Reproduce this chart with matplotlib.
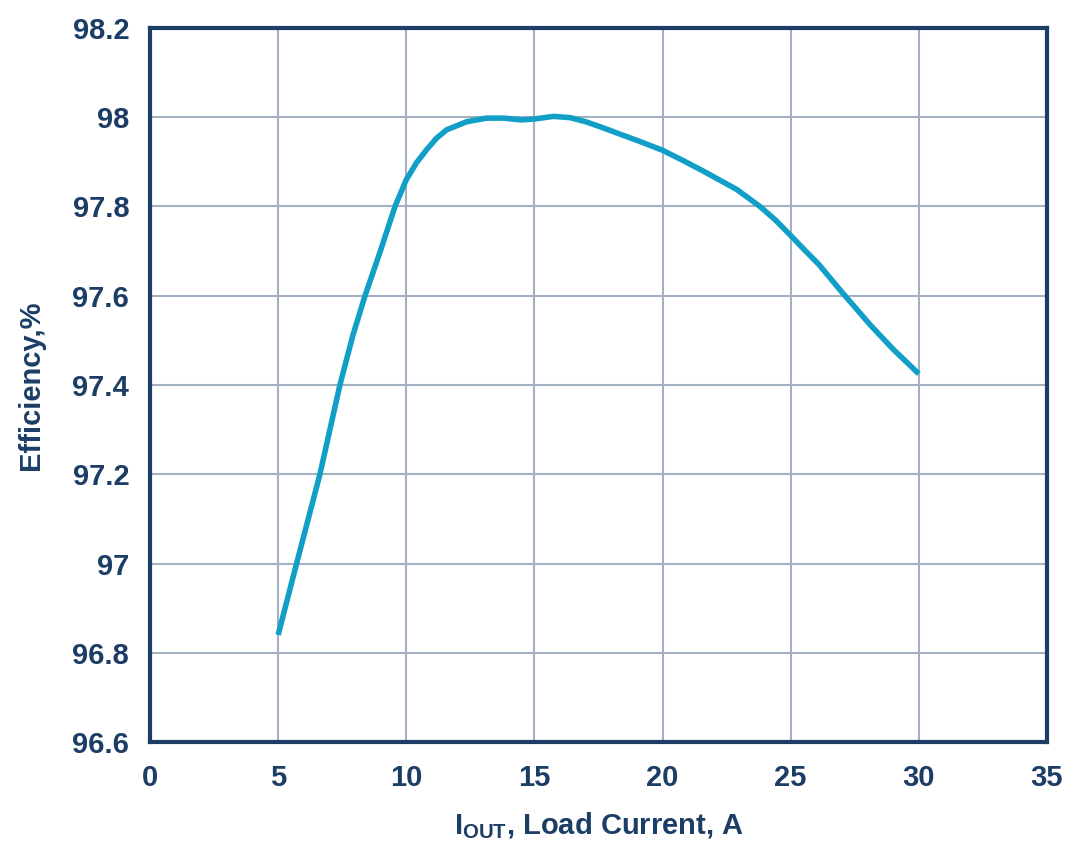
import matplotlib
matplotlib.use("Agg")
import matplotlib.pyplot as plt

plt.rcParams['font.family'] = ['Liberation Sans', 'DejaVu Sans']
plt.rcParams['mathtext.fontset'] = 'custom'
plt.rcParams['mathtext.bf'] = 'Liberation Sans:bold'
plt.rcParams['mathtext.rm'] = 'Liberation Sans:bold'

load_current = [5.0, 5.72, 6.63, 7.41, 7.91, 8.39, 8.97, 9.56, 10.0, 10.4, 10.79, 11.18,
                11.58, 12.36, 13.13, 13.8, 14.5, 15.0, 15.75, 16.4, 17.0, 17.6, 18.3,
                19.1, 20.0, 20.8, 21.6, 22.9, 23.8, 24.4, 25.0, 25.5, 26.1, 27.0,
                28.1, 29.0, 30.0]
efficiency = [96.84, 97.0, 97.2, 97.4, 97.51, 97.6, 97.697, 97.8, 97.86, 97.898, 97.927, 97.953,
              97.972, 97.99, 97.998, 97.998, 97.994, 97.996, 98.002, 97.999, 97.99, 97.978, 97.963,
              97.946, 97.926, 97.903, 97.879, 97.838, 97.8, 97.77, 97.735, 97.705, 97.67, 97.608,
              97.535, 97.48, 97.425]

x_ticks = [0, 5, 10, 15, 20, 25, 30, 35]
y_ticks = [96.6, 96.8, 97.0, 97.2, 97.4, 97.6, 97.8, 98.0, 98.2]
y_tick_labels = ['96.6', '96.8', '97', '97.2', '97.4', '97.6', '97.8', '98', '98.2']

navy = '#1c3d66'
grid_c = '#a3b1c2'
line_c = '#119fc7'

fig = plt.figure(figsize=(10.8, 8.43), dpi=100)
ax = fig.add_axes([0.1389, 0.1198, 0.8305, 0.847])
ax.plot(load_current, efficiency, color=line_c, lw=4.0, solid_capstyle='butt',
        solid_joinstyle='round', zorder=3)

ax.set_xlim(0, 35)
ax.set_ylim(96.6, 98.2)
ax.set_xticks(x_ticks)
ax.set_yticks(y_ticks)
ax.set_yticklabels(y_tick_labels)
ax.grid(True, color=grid_c, lw=1.5)
ax.set_axisbelow(True)
for s in ax.spines.values():
    s.set_color(navy)
    s.set_linewidth(3)
ax.tick_params(length=0, pad=16, labelsize=21, labelcolor=navy)
ax.tick_params(axis='y', pad=15)
for lab in ax.get_xticklabels() + ax.get_yticklabels():
    lab.set_fontweight('bold')

ax.set_xlabel(r'$\mathbf{I_{OUT}}$, Load Current, A', fontsize=21, fontweight='bold',
              color=navy, labelpad=13)
ax.set_ylabel('Efficiency,%', fontsize=21, fontweight='bold', color=navy, labelpad=20)

fig.savefig('out.png', dpi=100, facecolor='white')
